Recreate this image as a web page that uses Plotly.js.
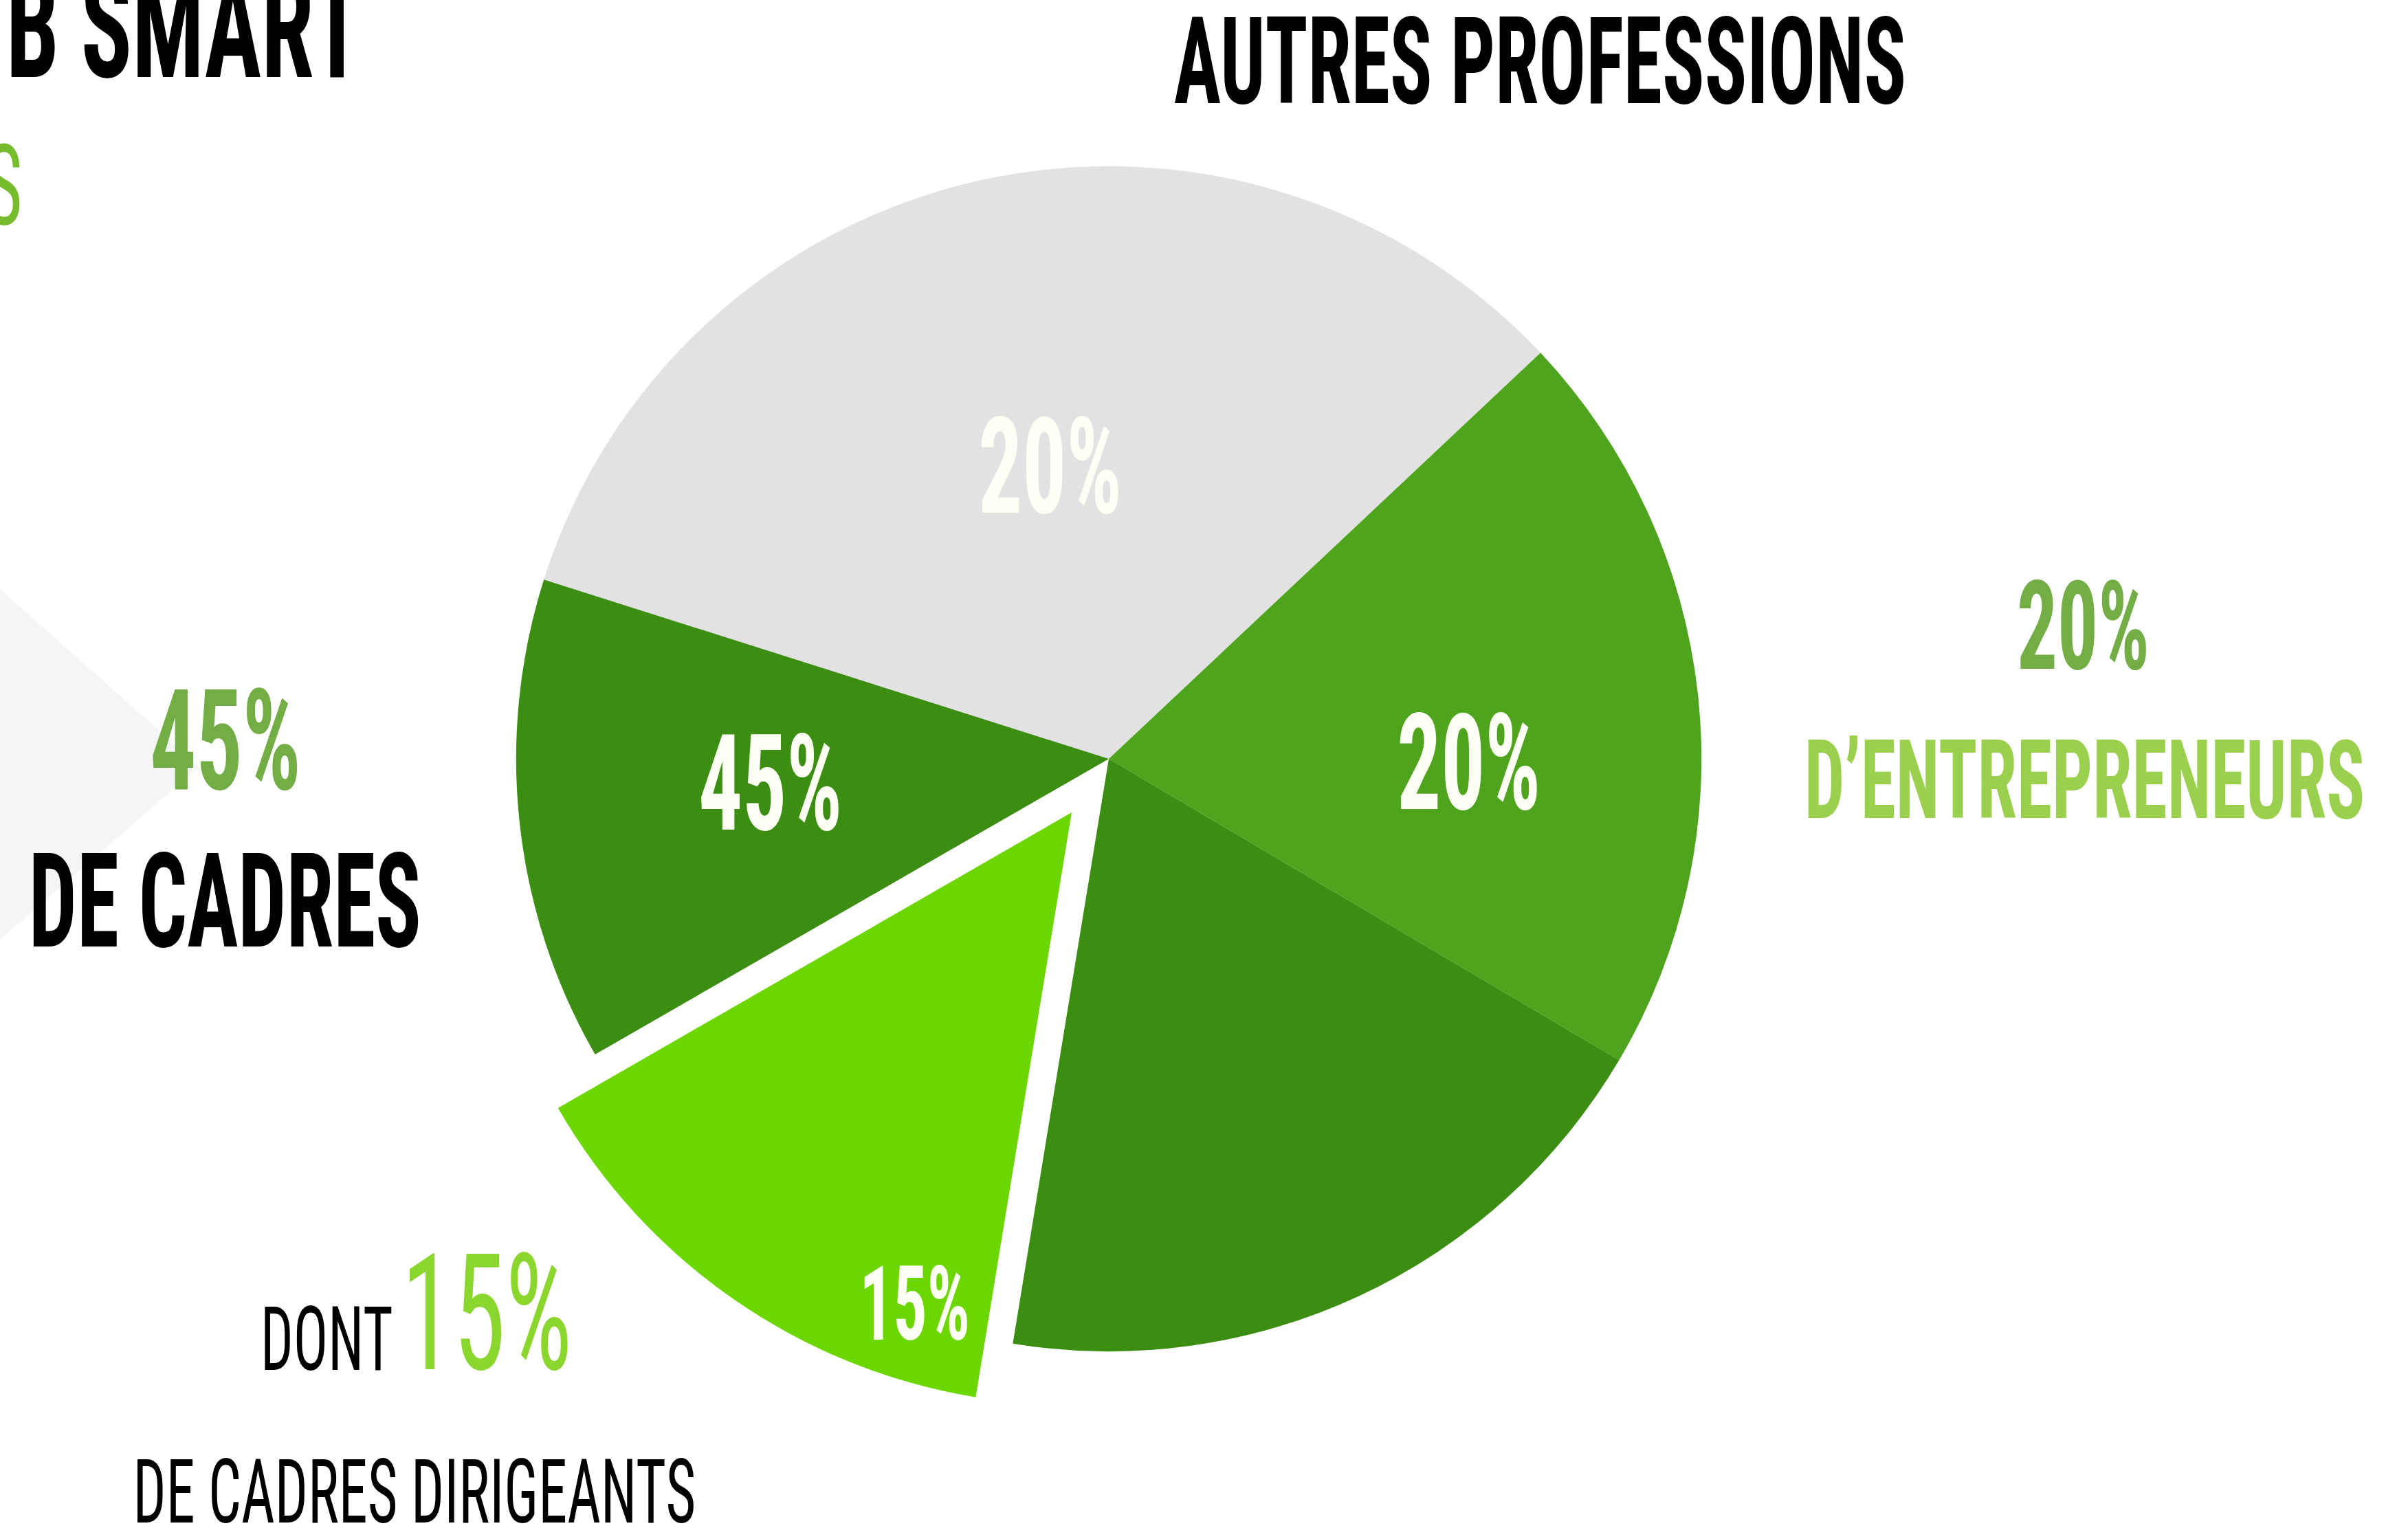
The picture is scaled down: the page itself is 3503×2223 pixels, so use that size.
<!DOCTYPE html>
<html><head><meta charset="utf-8">
<script src="https://cdn.plot.ly/plotly-3.0.1.min.js"></script>
<style>
html,body{margin:0;padding:0;background:#fff;overflow:hidden}
#chart{width:3503px;height:2223px;}
/* condensed look of the original poster typeface */
#chart .annotation-text{transform:scaleX(0.65);transform-box:fill-box;transform-origin:center;}
</style>
</head><body><div id="chart"></div>
<script>
// ---- data ----
const categories = ["Autres professions", "Entrepreneurs", "Cadres", "Cadres dirigeants", "Cadres (suite)"];
const sliceValues = [33.1, 20.5, 19.1, 14.1, 13.2];
const sliceLabels = ["20%", "20%", "", "15%", "45%"];
const slicePull = [0, 0, 0, 0.11, 0];
const sliceColors = ["#e2e2e2", "#4ea41c", "#3b8e12", "#6bd600", "#3b8e12"];

const W = 3503, H = 2223;
const px = x => x / W;
const py = y => 1 - y / H;
const FONT = "Roboto Condensed, Roboto, Liberation Sans, sans-serif";

// pie geometry (pixels)
const cx = 1613, cy = 1104, half = 957;

const trace = {
  type: "pie",
  labels: categories,
  values: sliceValues,
  text: sliceLabels,
  textinfo: "none",
  sort: false,
  direction: "clockwise",
  rotation: -72.4,
  pull: slicePull,
  marker: {colors: sliceColors, line: {width: 0}},
  domain: {x: [px(cx - half), px(cx + half)], y: [py(cy + half), py(cy - half)]},
  hoverinfo: "label+percent",
  showlegend: false
};

// label positions inside slices (pixels)
const labelPos = [[1528, 679], [2137, 1111], null, [1330, 1898], [1121, 1140]];
const labelSize = [195, 195, 0, 150, 195];

const ann = [];
sliceLabels.forEach((t, i) => {
  if (!t) return;
  ann.push({text: t, x: px(labelPos[i][0]), y: py(labelPos[i][1]), xref: "paper", yref: "paper",
    showarrow: false, xanchor: "center", yanchor: "middle",
    font: {family: FONT, size: labelSize[i], color: "#fdfff5", weight: 700}});
});

function txt(t, x, y, size, color, weight) {
  ann.push({text: t, x: px(x), y: py(y), xref: "paper", yref: "paper", showarrow: false,
    xanchor: "center", yanchor: "middle",
    font: {family: FONT, size: size, color: color, weight: weight}});
}
txt("AUTRES PROFESSIONS", 2240, 90, 176, "#000000", 700);
txt("B SMART", 268, 40, 212, "#000000", 700);
txt("S", 5, 270, 163, "#76bc2c", 400);
txt("45%", 328, 1078, 205, "#72ad46", 700);
txt("DE CADRES", 327, 1312, 191, "#000000", 700);
txt("DONT", 475, 1949, 129, "#000000", 400);
txt("15%", 708, 1911, 236, "#8bd62e", 400);
txt("DE CADRES DIRIGEANTS", 603, 2170, 130, "#000000", 400);
txt("20%", 3030, 911, 180, "#72ad46", 700);
txt("D\u2019ENTREPRENEURS", 3032, 1135, 160, "#9bd04e", 700);

const layout = {
  width: W, height: H,
  margin: {l: 0, r: 0, t: 0, b: 0},
  paper_bgcolor: "#ffffff",
  showlegend: false,
  annotations: ann,
  shapes: [{type: "path", xref: "paper", yref: "paper", layer: "below",
    path: `M 0 ${py(857)} L ${px(290)} ${py(1115)} L 0 ${py(1367)} Z`,
    fillcolor: "#f5f5f7", line: {width: 0}}]
};

Plotly.newPlot("chart", [trace], layout, {displayModeBar: false, staticPlot: true});
</script></body></html>
